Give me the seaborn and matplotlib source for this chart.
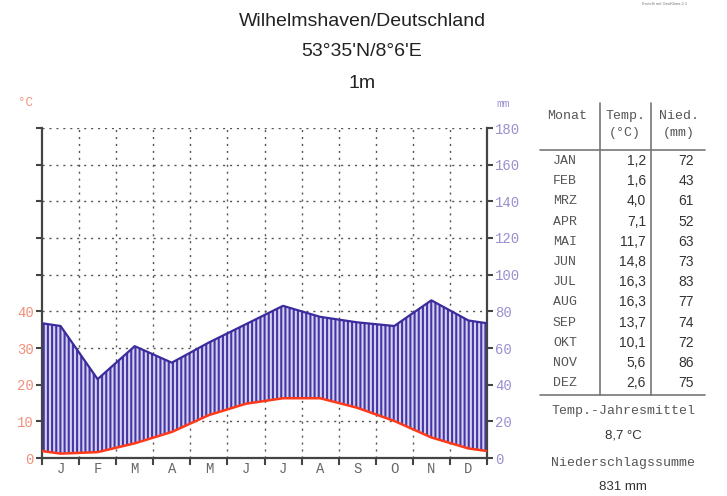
import numpy as np
import pandas as pd
import seaborn as sns
import matplotlib
matplotlib.use('Agg')
import matplotlib.pyplot as plt
from matplotlib.lines import Line2D
from matplotlib.ticker import FixedLocator, FuncFormatter

# Daten
monate_kurz = ['J', 'F', 'M', 'A', 'M', 'J', 'J', 'A', 'S', 'O', 'N', 'D']
monate_tab = ['JAN', 'FEB', 'MRZ', 'APR', 'MAI', 'JUN', 'JUL', 'AUG', 'SEP', 'OKT', 'NOV', 'DEZ']
temp = [1.2, 1.6, 4.0, 7.1, 11.7, 14.8, 16.3, 16.3, 13.7, 10.1, 5.6, 2.6]
nied = [72, 43, 61, 52, 63, 73, 83, 77, 74, 72, 86, 75]
temp_mittel = '8,7 °C'
nied_summe = '831 mm'

W, H = 727, 496


def fx(px):
    return px / W


def fy(py):
    return 1 - py / H


sns.set_theme(style='white')
plt.rcParams['hatch.linewidth'] = 1.5

fig = plt.figure(figsize=(7.27, 4.96), dpi=100)
ax = fig.add_axes([fx(42), fy(458), fx(487) - fx(42), fy(128) - fy(458)])

# Monatsmitten, Ränder mit Mittel aus Dez/Jan
x = np.concatenate([[0], np.arange(12) + 0.5, [12]])
t_rand = (temp[0] + temp[-1]) / 2
n_rand = (nied[0] + nied[-1]) / 2
t_mm = np.concatenate([[t_rand], temp, [t_rand]]) * 2  # 1 °C = 2 mm
n_mm = np.concatenate([[n_rand], nied, [n_rand]])
df = pd.DataFrame({'x': x, 'temp': t_mm, 'nied': n_mm})

ax.fill_between(df['x'], df['temp'], df['nied'], facecolor='#d6d1f0',
                edgecolor='#4536a6', hatch='||||', linewidth=0, zorder=2)
sns.lineplot(data=df, x='x', y='nied', ax=ax, color='#3a2c9c', lw=1.6,
             estimator=None, zorder=3)
sns.lineplot(data=df, x='x', y='temp', ax=ax, color='#ff3a1a', lw=1.8,
             estimator=None, zorder=3)

ax.set_xlim(0, 12)
ax.set_ylim(0, 180)
ax.set_xlabel('')
ax.set_ylabel('')

# Gitter
for xv in range(1, 12):
    ax.axvline(xv, color='#555555', lw=1, ls=(0, (1.5, 3.5)), zorder=1)
for yv in range(20, 181, 20):
    ax.axhline(yv, color='#555555', lw=1, ls=(0, (1.5, 3.5)), zorder=1)

ax.spines['top'].set_visible(False)
for s in ['left', 'right', 'bottom']:
    ax.spines[s].set_color('#444444')
    ax.spines[s].set_linewidth(1.6)

# x-Achse: Striche an Monatsgrenzen, Buchstaben in der Mitte
ax.xaxis.set_major_locator(FixedLocator(range(13)))
ax.xaxis.set_major_formatter(FuncFormatter(lambda v, p: ''))
ax.set_xticks(np.arange(12) + 0.5, minor=True)
ax.set_xticklabels(monate_kurz, minor=True, family='Liberation Mono',
                   fontsize=10, color='#666666')
ax.tick_params(axis='x', which='major', bottom=True, length=5, width=1.5,
               color='#444444', direction='out')
ax.tick_params(axis='x', which='minor', bottom=False, length=0, pad=3)

# linke Achse (°C)
ax.yaxis.set_major_locator(FixedLocator(range(0, 181, 20)))
ax.yaxis.set_major_formatter(FuncFormatter(
    lambda v, p: f'{int(v / 2)}' if v <= 80 else ''))
ax.tick_params(axis='y', left=True, length=4, width=1.5, color='#444444',
               direction='out', labelsize=10, labelcolor='#f0907a', pad=2)
for lab in ax.get_yticklabels():
    lab.set_family('Liberation Mono')

# rechte Achse (mm)
ax2 = ax.twinx()
ax2.set_ylim(0, 180)
ax2.yaxis.set_major_locator(FixedLocator(range(0, 181, 20)))
ax2.tick_params(axis='y', right=True, length=4, width=1.5, color='#444444',
                direction='out', labelsize=10, labelcolor='#9890d0', pad=2)
for lab in ax2.get_yticklabels():
    lab.set_family('Liberation Mono')
for s in ax2.spines.values():
    s.set_visible(False)

fig.text(fx(25), fy(103), '°C', color='#f0907a', fontsize=9,
         family='Liberation Mono', ha='center', va='center')
fig.text(fx(503), fy(104), 'mm', color='#9890d0', fontsize=8,
         family='Liberation Mono', ha='center', va='center')

# Titel
fig.text(fx(362), fy(21), 'Wilhelmshaven/Deutschland', fontsize=14,
         family='Liberation Sans', color='#222222', ha='center', va='center')
fig.text(fx(362), fy(51), "53°35'N/8°6'E", fontsize=14,
         family='Liberation Sans', color='#222222', ha='center', va='center')
fig.text(fx(362), fy(84), '1m', fontsize=14,
         family='Liberation Sans', color='#222222', ha='center', va='center')
fig.text(fx(665), fy(4), 'Erstellt mit GeoKlima 2.1', fontsize=3,
         family='Liberation Sans', color='#777777', ha='center', va='center')

# Tabelle
mono = 'Liberation Mono'
grau = '#555555'
fig.text(fx(567), fy(116), 'Monat', family=mono, fontsize=9.5, color=grau,
         ha='center', va='center')
fig.text(fx(625), fy(116), 'Temp.', family=mono, fontsize=9.5, color=grau,
         ha='center', va='center')
fig.text(fx(625), fy(133), '(°C)', family=mono, fontsize=9.5, color=grau,
         ha='center', va='center')
fig.text(fx(679), fy(116), 'Nied.', family=mono, fontsize=9.5, color=grau,
         ha='center', va='center')
fig.text(fx(679), fy(133), '(mm)', family=mono, fontsize=9.5, color=grau,
         ha='center', va='center')

for i, (m, t, n) in enumerate(zip(monate_tab, temp, nied)):
    yy = 161 + i * 20.2
    fig.text(fx(565), fy(yy), m, family=mono, fontsize=9.5, color=grau,
             ha='center', va='center')
    fig.text(fx(646), fy(yy), f'{t:.1f}'.replace('.', ','), family='Liberation Sans',
             fontsize=10, color='#333333', ha='right', va='center')
    fig.text(fx(694), fy(yy), f'{n}', family='Liberation Sans',
             fontsize=10, color='#333333', ha='right', va='center')

linie = dict(color='#777777', lw=1.2)
fig.add_artist(Line2D([fx(540), fx(705)], [fy(150), fy(150)], **linie))
fig.add_artist(Line2D([fx(540), fx(705)], [fy(395), fy(395)], **linie))
fig.add_artist(Line2D([fx(600), fx(600)], [fy(103), fy(395)], **linie))
fig.add_artist(Line2D([fx(651), fx(651)], [fy(103), fy(395)], **linie))

fig.text(fx(623), fy(411), 'Temp.-Jahresmittel', family=mono, fontsize=9.5,
         color=grau, ha='center', va='center')
fig.text(fx(623), fy(435), temp_mittel, family='Liberation Sans', fontsize=9.5,
         color='#333333', ha='center', va='center')
fig.text(fx(623), fy(463), 'Niederschlagssumme', family=mono, fontsize=9.5,
         color=grau, ha='center', va='center')
fig.text(fx(623), fy(487), nied_summe, family='Liberation Sans', fontsize=9.5,
         color='#333333', ha='center', va='center')

fig.savefig('out.png', dpi=100)
